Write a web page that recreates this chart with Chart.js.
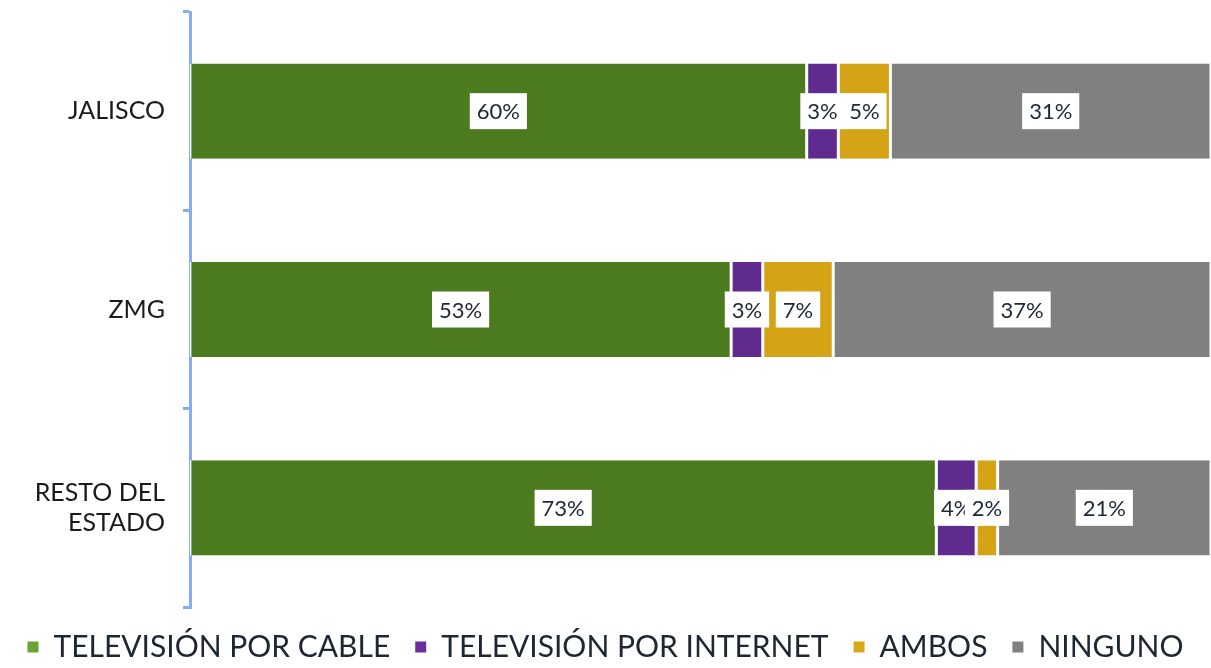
<!DOCTYPE html>
<html>
<head>
<meta charset="utf-8">
<script src="https://cdn.jsdelivr.net/npm/chart.js@4.4.1/dist/chart.umd.min.js"></script>
<style>
  html, body { margin: 0; padding: 0; background: #ffffff; }
  #wrap { width: 1211px; height: 668px; }
</style>
</head>
<body>
<div id="wrap"><canvas id="c" width="1211" height="668"></canvas></div>
<script>
const categories = ["JALISCO", "ZMG", ["RESTO DEL", "ESTADO"]];
const seriesNames = ["TELEVISIÓN POR CABLE", "TELEVISIÓN POR INTERNET", "AMBOS", "NINGUNO"];
const cable    = [60.4, 53.0, 73.1];
const internet = [3.1, 3.1, 3.9];
const ambos    = [5.1, 6.9, 2.1];
const ninguno  = [31.4, 37.0, 20.9];
const xTicks   = [0, 100];

const barColors    = ["#4c7a1f", "#5f2b8e", "#d4a416", "#808080"];
const legendColors = ["#6aa336", "#6a2f9c", "#d8a81a", "#808080"];
const FONT = "Lato, 'Open Sans', sans-serif";
const AXIS_BLUE = "#84adf7";

const seriesValues = [cable, internet, ambos, ninguno];

const labelPlugin = {
  id: "boxLabels",
  afterDatasetsDraw(chart) {
    const ctx = chart.ctx;
    ctx.save();
    ctx.font = "22px " + FONT;
    ctx.textAlign = "center";
    ctx.textBaseline = "middle";
    chart.data.datasets.forEach((ds, di) => {
      const meta = chart.getDatasetMeta(di);
      meta.data.forEach((el, i) => {
        const v = ds.data[i];
        const txt = Math.round(v) + "%";
        const cx = (el.x + el.base) / 2;
        const cy = el.y;
        const w = ctx.measureText(txt).width + 14;
        const h = 36;
        ctx.fillStyle = "#ffffff";
        ctx.fillRect(cx - w / 2, cy - h / 2, w, h);
        ctx.fillStyle = "#1d2631";
        ctx.fillText(txt, cx, cy + 1);
      });
    });
    ctx.restore();
  }
};

new Chart(document.getElementById("c"), {
  type: "bar",
  data: {
    labels: categories,
    datasets: seriesNames.map((name, k) => ({
      label: name,
      data: seriesValues[k],
      backgroundColor: barColors[k],
      borderColor: "#ffffff",
      borderWidth: { left: 1.5, right: 1.5, top: 0, bottom: 0 },
      borderSkipped: false,
      barPercentage: 0.48,
      categoryPercentage: 1.0
    }))
  },
  options: {
    indexAxis: "y",
    responsive: false,
    animation: false,
    layout: { padding: { top: 12, right: 0, left: 0, bottom: -4 } },
    scales: {
      x: {
        stacked: true,
        display: false,
        min: xTicks[0],
        max: xTicks[1]
      },
      y: {
        stacked: true,
        position: "left",
        afterFit(scale) {
          scale.paddingTop = 0;
          scale.paddingBottom = 0;
          scale.width = 190;
        },
        grid: {
          offset: true,
          drawOnChartArea: false,
          drawTicks: true,
          tickLength: 7,
          color: AXIS_BLUE,
          lineWidth: 3
        },
        border: { display: true, color: AXIS_BLUE, width: 3 },
        ticks: {
          color: "#1a1a1a",
          font: { family: FONT, size: 25 },
          padding: 18
        }
      }
    },
    plugins: {
      tooltip: { enabled: false },
      legend: {
        position: "bottom",
        labels: {
          font: { family: FONT, size: 30 },
          color: "#1d2631",
          boxWidth: 11,
          boxHeight: 11,
          padding: 25,
          generateLabels(chart) {
            return chart.data.datasets.map((ds, i) => ({
              text: ds.label,
              fillStyle: legendColors[i],
              strokeStyle: legendColors[i],
              lineWidth: 0,
              hidden: false,
              datasetIndex: i,
              fontColor: "#1d2631"
            }));
          }
        }
      }
    }
  },
  plugins: [labelPlugin]
});
</script>
</body>
</html>
